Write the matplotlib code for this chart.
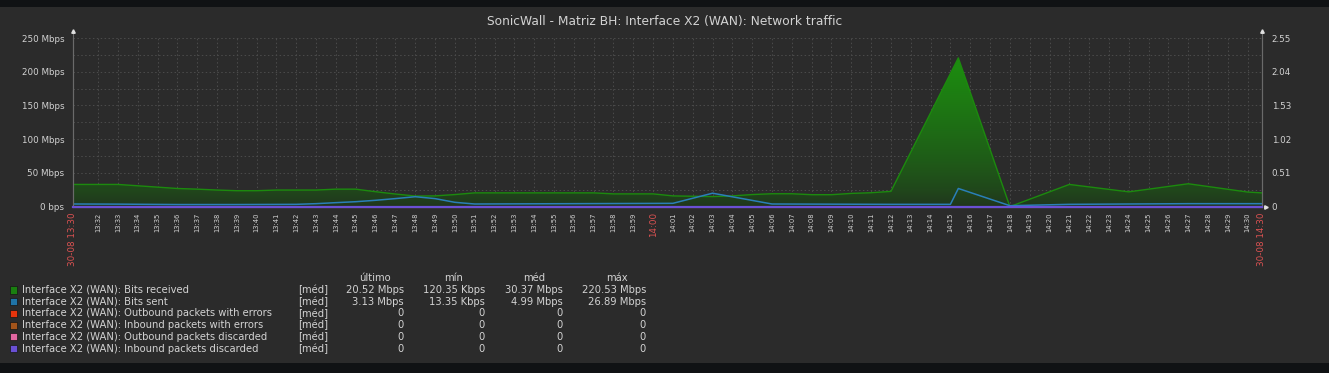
import matplotlib
matplotlib.use("Agg")
import matplotlib.pyplot as plt
import numpy as np
from matplotlib.patches import Rectangle

W, H = 1329, 373

# minutes after 13:30
recv_t = [0.72, 1, 2, 3, 4, 5, 6, 7, 8, 9, 10, 11, 12, 13, 14, 15, 16, 17, 18, 19, 20,
          21, 22, 23, 24, 25, 26, 27, 28, 29, 30, 31, 32, 33, 34, 35, 36, 37, 38, 39, 40,
          41, 42, 45.4, 48, 51, 54, 57, 60, 60.72]
recv_mbps = [33, 33, 33, 33, 31, 29, 27, 26, 24.7, 23.7, 23.7, 24.7, 24.7, 24.7, 26, 26,
             22.2, 18.8, 15.8, 16, 18, 20.5, 20.5, 20.5, 20.5, 20.5, 20.5, 20.5, 19, 19, 19,
             16, 15.5, 15, 16, 18, 19.2, 19.2, 17.8, 17.8, 19.7, 20.7, 22.7, 220.5, 0.12,
             33, 22, 34, 21.7, 20.5]

sent_t = [0.72, 3, 6, 9, 12, 13, 14, 15, 16, 17, 18, 19, 20, 21, 31, 33, 36, 42, 45,
          45.4, 48, 51, 54, 57, 60.72]
sent_mbps = [4, 3.8, 3.2, 3.2, 3.5, 4.5, 6, 7.4, 9.5, 12, 14.8, 12, 6.5, 4, 5, 20, 4,
             3.5, 3.5, 27, 1.5, 3.5, 4, 4.5, 4.5]

pkt_t = [0.72, 60.72]
out_err = [0, 0]
in_err = [0, 0]
out_disc = [0, 0]
in_disc = [0, 0]

y_ticks = [0, 50, 100, 150, 200, 250]
y_labels = ["0 bps", "50 Mbps", "100 Mbps", "150 Mbps", "200 Mbps", "250 Mbps"]
right_labels = ["0", "0.51", "1.02", "1.53", "2.04", "2.55"]

legend_names = ["Interface X2 (WAN): Bits received",
                "Interface X2 (WAN): Bits sent",
                "Interface X2 (WAN): Outbound packets with errors",
                "Interface X2 (WAN): Inbound packets with errors",
                "Interface X2 (WAN): Outbound packets discarded",
                "Interface X2 (WAN): Inbound packets discarded"]
legend_colors = ["#1a7f10", "#1f74a8", "#e8340c", "#a4541a", "#e266a0", "#6a50d4"]
col_ultimo = ["20.52 Mbps", "3.13 Mbps", "0", "0", "0", "0"]
col_min = ["120.35 Kbps", "13.35 Kbps", "0", "0", "0", "0"]
col_med = ["30.37 Mbps", "4.99 Mbps", "0", "0", "0", "0"]
col_max = ["220.53 Mbps", "26.89 Mbps", "0", "0", "0", "0"]

BG = "#2b2b2b"
TXT = "#d2d2d2"
RED = "#dc5252"
GRID = "#4c4c4c"


def fx(px):
    return px / W


def fy(py):
    return 1 - py / H


fig = plt.figure(figsize=(W / 100, H / 100), dpi=100, facecolor="#101214")
fig.patches.append(Rectangle((0, fy(363)), 1, (363 - 7) / H, transform=fig.transFigure,
                             facecolor=BG, edgecolor="none", zorder=-10))

x0, x1, ytop, ybot = 72.7, 1262, 38, 206.7
ax = fig.add_axes([fx(x0), fy(ybot), (x1 - x0) / W, (ybot - ytop) / H])
ax.set_facecolor(BG)
xmin, xmax = 0.72, 60.72

# gradient fill under bits received
poly = ax.fill_between(recv_t, recv_mbps, 0, color="none")
ny = 256
t = np.linspace(0, 1, ny) ** 0.7
c0 = np.array([0.13, 0.20, 0.12])
c1 = np.array([0.11, 0.56, 0.06])
grad = (c0[None, :] * (1 - t[:, None]) + c1[None, :] * t[:, None])[:, None, :]
im = ax.imshow(grad, extent=[xmin, xmax, 0, 225], origin="lower", aspect="auto",
               interpolation="bilinear", zorder=1)
im.set_clip_path(poly.get_paths()[0], transform=ax.transData)

ax.plot(recv_t, recv_mbps, color="#1c8a0e", lw=1.0, zorder=3)
ax.plot(sent_t, sent_mbps, color="#2a7fb8", lw=1.1, zorder=4)

ax.set_xlim(xmin, xmax)
ax.set_ylim(0, 250)

ax2 = ax.twinx()
ax2.plot(pkt_t, out_err, color=legend_colors[2], lw=1.4, zorder=5)
ax2.plot(pkt_t, in_err, color=legend_colors[3], lw=1.4, zorder=5)
ax2.plot(pkt_t, out_disc, color=legend_colors[4], lw=1.4, zorder=5)
ax2.plot(pkt_t, in_disc, color=legend_colors[5], lw=1.6, zorder=6, clip_on=False)
ax2.set_ylim(0, 2.55)
ax2.set_xlim(xmin, xmax)

# grid
ax.set_yticks(y_ticks)
ax.set_yticklabels(y_labels)
ax.set_yticks([25, 75, 125, 175, 225], minor=True)
ax.grid(True, which="both", axis="y", color=GRID, ls=(0, (1.5, 2.5)), lw=0.7)

ticks = list(range(2, 61))
labels = ["%d:%02d" % (13 + (30 + m) // 60, (30 + m) % 60) for m in ticks]
ax.set_xticks([xmin] + ticks + [xmax])
ax.set_xticklabels(["30-08 13:30"] + labels + ["30-08 14:30"])
ax.grid(True, which="major", axis="x", color=GRID, ls=(0, (1.5, 2.5)), lw=0.7)
ax.set_axisbelow(True)

ax.tick_params(axis="x", length=0, pad=4, labelrotation=90, labelsize=4.9, colors=TXT)
ax.tick_params(axis="y", which="both", length=0, pad=6, labelsize=6.3, colors=TXT)
for lab in ax.get_xticklabels():
    if lab.get_text() in ("14:00", "30-08 13:30", "30-08 14:30"):
        lab.set_color(RED)
        lab.set_fontsize(6.3)

ax2.set_yticks(np.linspace(0, 2.55, 6))
ax2.set_yticklabels(right_labels)
ax2.tick_params(axis="y", length=0, pad=7, labelsize=6.3, colors=TXT)

for a in (ax, ax2):
    a.spines["top"].set_visible(False)
    for s in ("left", "right", "bottom"):
        a.spines[s].set_color("#6a6a6a")
        a.spines[s].set_linewidth(0.8)

# axis arrows
ax.plot([0, 0], [1, 1.035], transform=ax.transAxes, color="#6a6a6a", lw=0.8, clip_on=False)
ax.plot([1, 1], [1, 1.035], transform=ax.transAxes, color="#6a6a6a", lw=0.8, clip_on=False)
ax.plot([0, 1], [1.04, 1.04], ls="none", marker="^", ms=2.5, color="#e0e0e0",
        transform=ax.transAxes, clip_on=False)
ax.plot([1.003], [0], ls="none", marker=">", ms=2.5, color="#e0e0e0",
        transform=ax.transAxes, clip_on=False)

fig.text(0.5, fy(22), "SonicWall - Matriz BH: Interface X2 (WAN): Network traffic",
         ha="center", va="center", color=TXT, fontsize=8.8)

# legend table
fs = 7.2
for cx, head in zip((375, 454, 534, 617), ("último", "mín", "méd", "máx")):
    fig.text(fx(cx), fy(278), head, ha="center", va="center", color=TXT, fontsize=fs)
for i, name in enumerate(legend_names):
    yy = 290 + i * 11.7
    fig.patches.append(Rectangle((fx(10), fy(yy + 3.6)), 7 / W, 7.2 / H,
                                 transform=fig.transFigure, facecolor=legend_colors[i],
                                 edgecolor="#151515", lw=0.5))
    fig.text(fx(22), fy(yy), name, ha="left", va="center", color=TXT, fontsize=fs)
    fig.text(fx(298), fy(yy), "[méd]", ha="left", va="center", color=TXT, fontsize=fs)
    for rx, col in zip((404, 485, 563, 646), (col_ultimo, col_min, col_med, col_max)):
        fig.text(fx(rx), fy(yy), col[i], ha="right", va="center", color=TXT, fontsize=fs)

fig.savefig("out.png", dpi=100, facecolor=fig.get_facecolor())
